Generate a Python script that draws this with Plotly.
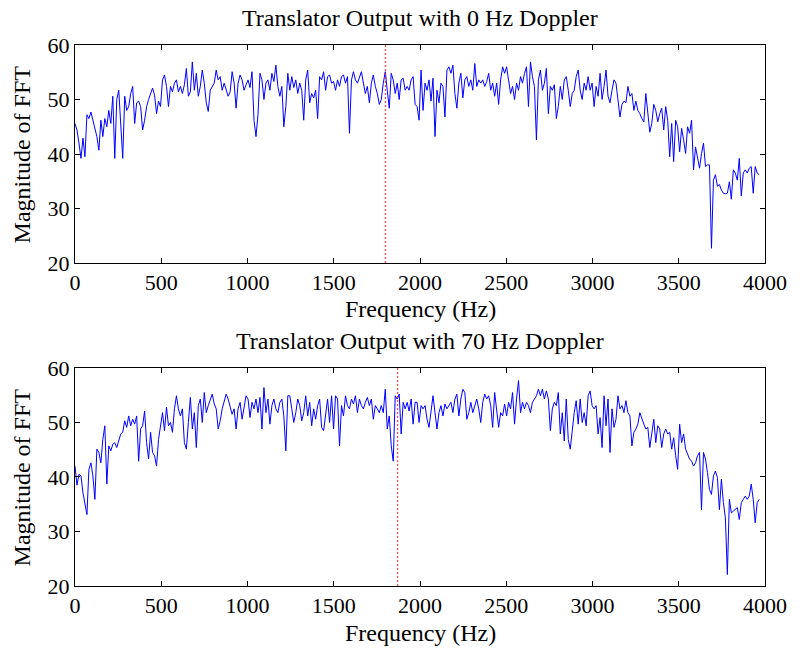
import numpy as np
import plotly.graph_objects as go

# Magnitude of FFT (dB-like units) for each frequency bin
mag_0hz = [
    45.6, 44.4, 42.0, 39.2, 42.9, 39.5, 47.2, 46.5, 47.7, 46.2,
    44.7, 43.2, 40.7, 46.2, 43.2, 46.5, 45.0, 48.0, 45.6, 50.6,
    39.2, 50.0, 51.7, 46.2, 39.2, 50.6, 48.0, 48.7, 51.1, 52.4,
    45.6, 49.4, 49.7, 48.7, 44.4, 46.2, 48.7, 50.0, 51.1, 52.1,
    50.8, 47.4, 49.7, 48.7, 53.6, 54.5, 52.4, 48.7, 52.4, 51.4,
    53.0, 53.6, 51.4, 52.4, 51.1, 52.7, 55.7, 50.6, 51.4, 56.9,
    51.7, 54.8, 50.6, 52.4, 55.4, 53.0, 49.4, 47.8, 51.7, 52.4,
    53.0, 55.4, 53.6, 54.2, 51.7, 53.0, 51.7, 50.6, 51.4, 55.1,
    53.0, 48.4, 53.0, 54.5, 53.6, 51.7, 52.7,
    53.6, 52.2, 55.1, 46.2, 43.2, 47.2, 54.8, 53.6, 50.0, 53.0,
    53.6, 51.7, 54.8, 53.3, 56.3, 52.4, 50.6, 52.4, 45.0, 48.7,
    54.8, 51.7, 54.2, 52.2, 53.6, 51.1, 53.0, 51.7, 46.2, 53.6,
    55.4, 49.4, 51.1, 50.3, 51.7, 46.5, 54.2, 53.6, 55.1, 51.7,
    54.2, 54.5, 53.0, 53.3, 51.7, 53.6, 52.4, 54.2, 54.5, 53.0,
    54.2, 43.8, 53.6, 55.1, 53.6, 53.0, 53.9, 55.1, 53.0, 51.1,
    52.4, 49.4, 53.0, 54.5, 52.4, 51.1, 49.1, 50.0, 53.0, 55.1,
    51.7, 48.4, 54.8, 53.6, 51.1, 53.0, 50.0, 53.6, 53.9, 51.7,
    52.4, 51.7, 53.6, 54.2, 49.1,
    48.7, 46.2, 55.4, 48.0, 53.0, 51.7, 53.6, 49.7, 53.9, 43.2,
    51.7, 49.4, 53.0, 52.4, 46.8, 55.4, 56.0, 54.8, 56.3, 51.1,
    48.4, 53.0, 54.8, 50.3, 53.6, 54.2, 52.4, 53.6, 51.7, 56.6,
    52.4, 53.6, 53.0, 53.6, 52.4, 53.3, 54.8, 51.7, 53.0, 50.6,
    53.0, 49.1, 53.6, 56.0, 54.8, 56.0, 53.6, 51.1, 52.4, 50.0,
    53.0, 51.7, 54.2, 53.0, 54.8, 56.0, 48.7, 56.9, 54.2, 52.4,
    42.6, 53.6, 55.4, 51.7, 53.0, 55.7, 47.4, 52.4, 51.7, 52.7,
    46.5, 48.7, 52.4, 50.0, 53.6, 54.2, 51.7, 48.7, 51.1, 51.7,
    54.2, 55.4, 51.7, 50.0, 53.0,
    51.7, 54.2, 51.7, 53.0, 48.7, 52.4, 50.6, 54.8, 50.0, 52.4,
    55.4, 50.6, 49.4, 51.7, 53.6, 53.0, 50.0, 46.8, 49.1, 49.7,
    49.4, 52.4, 50.6, 51.1, 48.0, 49.7, 48.0, 47.4, 46.5, 45.9,
    51.1, 46.8, 44.0, 45.6, 49.1, 48.0, 45.9, 47.4, 48.4, 44.4,
    48.7, 46.2, 39.5, 45.6, 38.6, 46.2, 45.0, 40.4, 44.7, 42.6,
    40.1, 45.0, 43.8, 46.2, 37.1, 41.3, 38.9, 37.4, 40.1, 42.0,
    37.7, 38.0, 38.0, 22.7, 35.2, 36.2, 34.1, 34.4, 33.4, 32.8,
    32.7, 32.8, 34.9, 31.7, 37.1, 36.5, 35.2, 39.2, 32.3, 36.5,
    37.1, 36.5, 37.4, 37.7, 32.8, 37.7, 36.5, 36.2,
]

mag_70hz = [
    42.0, 38.5, 40.5, 40.2, 37.1, 34.7, 33.1, 41.4, 42.6, 40.2,
    35.9, 45.1, 44.5, 42.6, 46.9, 49.4, 38.7, 45.7, 44.8, 46.0,
    46.3, 45.4, 46.9, 47.9, 48.2, 50.3, 49.1, 51.2, 49.4, 50.6,
    49.7, 51.2, 42.9, 48.8, 49.4, 52.1, 46.3, 43.3, 48.2, 44.5,
    43.9, 42.0, 46.9, 49.4, 51.8, 48.5, 52.8, 49.4, 50.0, 48.2,
    52.5, 54.9, 52.5, 51.2, 52.5, 46.3, 45.1, 50.0, 54.6, 48.8,
    51.8, 45.4, 53.1, 54.3, 50.0, 55.5, 51.8, 53.1, 54.3, 55.2,
    53.4, 52.5, 48.8, 50.3, 52.5, 53.7, 55.2, 54.3, 53.1, 51.5,
    52.5, 48.8, 52.5, 53.7, 50.6, 53.1, 54.9,
    54.3, 50.9, 53.7, 52.5, 54.3, 51.8, 54.6, 48.8, 56.4, 51.8,
    54.3, 49.7, 53.1, 54.3, 52.5, 51.8, 53.7, 54.3, 51.2, 44.8,
    54.9, 54.9, 52.5, 50.0, 51.8, 54.3, 53.1, 50.3, 51.8, 54.9,
    51.2, 53.7, 49.4, 52.5, 50.6, 53.1, 54.3, 49.1, 48.5, 51.8,
    54.3, 50.0, 54.9, 48.8, 54.9, 54.3, 45.7, 53.1, 51.2, 54.9,
    53.1, 52.5, 54.3, 53.4, 54.9, 51.8, 54.3, 53.1, 52.5, 53.7,
    54.6, 53.1, 54.3, 50.6, 53.1, 52.5, 51.8, 53.1, 51.8, 56.1,
    48.8, 51.2, 45.7, 42.9, 54.9, 54.3, 55.2, 47.9, 53.7, 52.5,
    53.7, 52.1, 54.3, 49.7, 53.7,
    53.7, 50.0, 53.1, 52.5, 53.1, 50.6, 49.1, 51.8, 54.9, 51.8,
    48.8, 51.8, 53.1, 51.2, 53.4, 52.5, 53.1, 53.7, 51.8, 54.3,
    55.2, 51.2, 54.3, 56.1, 55.5, 50.6, 51.8, 53.7, 51.8, 53.1,
    54.3, 52.5, 50.0, 53.7, 55.2, 54.3, 54.9, 53.1, 49.1, 55.5,
    51.8, 49.1, 51.8, 51.2, 53.4, 51.2, 53.7, 52.5, 55.5, 49.7,
    54.3, 57.7, 51.8, 53.7, 52.5, 53.7, 53.1, 51.8, 53.7, 54.3,
    54.9, 56.1, 54.9, 56.1, 54.3, 55.8, 54.3, 48.5, 52.5, 53.7,
    53.1, 55.5, 47.9, 51.8, 46.6, 54.3, 46.9, 45.1, 48.8, 51.8,
    54.0, 49.7, 54.3, 50.0, 51.8,
    49.4, 54.9, 55.8, 53.1, 52.5, 53.1, 47.9, 50.9, 45.4, 54.9,
    49.4, 54.3, 44.5, 52.5, 49.1, 50.6, 54.9, 52.5, 53.1, 51.8,
    54.0, 51.8, 51.2, 45.7, 48.2, 48.8, 49.7, 51.8, 50.6, 49.7,
    48.8, 49.1, 45.4, 48.2, 50.6, 46.3, 49.4, 48.8, 45.4, 47.9,
    48.8, 47.9, 48.2, 45.1, 47.2, 43.9, 41.4, 49.7, 46.3, 47.9,
    45.1, 44.2, 43.3, 42.9, 42.0, 42.6, 43.9, 44.5, 34.0, 44.5,
    43.3, 40.8, 37.7, 36.8, 40.2, 41.1, 39.9, 34.0, 39.6, 35.3,
    32.5, 22.1, 35.9, 33.4, 33.7, 34.0, 34.4, 32.2, 35.3, 35.9,
    36.5, 35.9, 36.5, 38.7, 35.9, 31.6, 35.3, 35.9,
]

# Carrier marker frequencies (Hz)
marker_freqs = [1800, 1870]
titles = ["Translator Output with 0 Hz Doppler", "Translator Output with 70 Hz Doppler"]
x_ticks = [0, 500, 1000, 1500, 2000, 2500, 3000, 3500, 4000]
y_ticks = [20, 30, 40, 50, 60]

bin_width = 11.53  # Hz per FFT bin
freq_0 = np.arange(len(mag_0hz)) * bin_width
freq_70 = np.arange(len(mag_70hz)) * bin_width

FONT = "Liberation Serif, Times New Roman, serif"

fig = go.Figure()
fig.add_trace(go.Scatter(x=freq_0, y=mag_0hz, mode="lines",
                         line=dict(color="#0000ff", width=1), xaxis="x", yaxis="y"))
fig.add_trace(go.Scatter(x=freq_70, y=mag_70hz, mode="lines",
                         line=dict(color="#0000ff", width=1), xaxis="x2", yaxis="y2"))

# dotted red markers at the carrier frequency
for i, f in enumerate(marker_freqs):
    xr = "x" if i == 0 else "x2"
    yr = "y domain" if i == 0 else "y2 domain"
    fig.add_shape(type="line", x0=f, x1=f, y0=0, y1=1, xref=xr, yref=yr,
                  line=dict(color="#ff2020", width=1.3, dash="2px,2px"), opacity=0.8)

axis_common = dict(showline=True, linecolor="black", linewidth=1, mirror="allticks",
                   ticks="inside", ticklen=5, tickcolor="black", showgrid=False,
                   zeroline=False, tickfont=dict(family=FONT, size=22, color="black"))

fig.update_layout(
    width=799, height=652,
    margin=dict(l=75, r=29, t=45, b=66),
    paper_bgcolor="white", plot_bgcolor="white",
    showlegend=False,
    xaxis=dict(domain=[0, 1], anchor="y", range=[0, 4000], tickvals=x_ticks, **axis_common),
    yaxis=dict(domain=[0.597, 1], anchor="x", range=[20, 60], tickvals=y_ticks, **axis_common),
    xaxis2=dict(domain=[0, 1], anchor="y2", range=[0, 4000], tickvals=x_ticks, **axis_common),
    yaxis2=dict(domain=[0, 0.403], anchor="x2", range=[20, 60], tickvals=y_ticks, **axis_common),
)

H = 541.0  # plot-area height in px
def py(pix):
    return (586 - pix) / H

text_font = dict(family=FONT, size=24, color="black")
ann = [
    dict(text=titles[0], x=0.5, y=py(18)),
    dict(text=titles[1], x=0.5, y=py(341)),
    dict(text="Frequency (Hz)", x=0.5, y=py(309)),
    dict(text="Frequency (Hz)", x=0.5, y=py(633)),
]
for a in ann:
    fig.add_annotation(xref="paper", yref="paper", xanchor="center", yanchor="middle",
                       showarrow=False, font=text_font, **a)
for ypix in (154, 477):
    fig.add_annotation(text="Magnitude of FFT", xref="paper", yref="paper",
                       x=(22 - 75) / 695.0, y=py(ypix), xanchor="center", yanchor="middle",
                       textangle=-90, showarrow=False, font=text_font)

fig.write_html("out.html")
